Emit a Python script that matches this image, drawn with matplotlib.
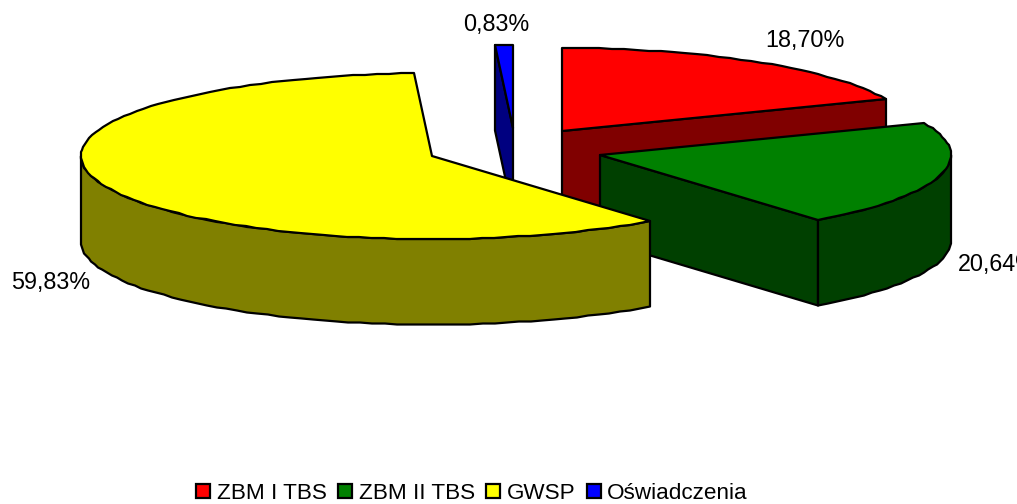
import numpy as np
import matplotlib
matplotlib.use("Agg")
import matplotlib.pyplot as plt
from matplotlib.patches import Polygon, Patch

categories = ["ZBM I TBS", "ZBM II TBS", "GWSP", "Oświadczenia"]
values = [18.70, 20.64, 59.83, 0.83]
labels = ["18,70%", "20,64%", "59,83%", "0,83%"]
top_colors = ["#FF0000", "#008000", "#FFFF00", "#0000FF"]
side_colors = ["#800000", "#004000", "#808000", "#000080"]

# layout (pixel space): exploded slice centres, ellipse radii, extrusion depth
centers = [(562, 131), (600, 155), (432, 156), (513, 128)]
RX, RY, DEPTH = 351, 83, 85.5
label_pos = [(765, 41), (958, 265), (11, 282), (463, 25)]
draw_order = [3, 0, 1, 2]
LW = 1.6

plt.rcParams["font.family"] = ["Liberation Sans", "DejaVu Sans"]
fig = plt.figure(figsize=(10.17, 5.04), dpi=100)
ax = fig.add_axes([0, 0, 1, 1])
ax.set_xlim(0, 1017)
ax.set_ylim(504, 0)
ax.axis("off")


def rim(c, a0, a1):
    n = max(2, int(abs(a1 - a0) / 2.0) + 1)
    t = np.radians(np.linspace(a0, a1, n))
    return np.column_stack([np.round(c[0] + RX * np.sin(t)), np.round(c[1] - RY * np.cos(t))])


def add(points, color):
    ax.add_patch(Polygon(points, closed=True, facecolor=color, edgecolor="black",
                         linewidth=LW, joinstyle="round"))


shares = np.array(values) / sum(values) * 360
ends = np.cumsum(shares)
starts = ends - shares

for i in draw_order:
    c, s, e = centers[i], starts[i], ends[i]
    # radial faces turned towards the viewer
    for ang, visible in ((s, np.sin(np.radians(s)) < -1e-9), (e, np.sin(np.radians(e)) > 1e-9)):
        if visible:
            p = rim(c, ang, ang)[0]
            add([c, p, (p[0], p[1] + DEPTH), (c[0], c[1] + DEPTH)], side_colors[i])
    # outer wall (front half of the ellipse)
    w0, w1 = max(s, 90), min(e, 270)
    if w1 > w0:
        arc = rim(c, w0, w1)
        add(np.vstack([arc, (arc + [0, DEPTH])[::-1]]), side_colors[i])
    # top
    add(np.vstack([[c], rim(c, s, e)]), top_colors[i])

for lab, (x, y) in zip(labels, label_pos):
    ax.text(x, y, lab, fontsize=16.8, ha="left", va="center", color="black", clip_on=False)

handles = [Patch(facecolor=col, edgecolor="black", linewidth=1.6) for col in top_colors]
ax.legend(handles, categories, loc="center", bbox_to_anchor=(472 / 1017, 1 - 493.5 / 504),
          ncol=4, frameon=False, fontsize=16.2, handlelength=0.62, handleheight=0.62,
          handletextpad=0.3, columnspacing=0.5, borderpad=0, borderaxespad=0)

fig.savefig("out.png", dpi=100)
